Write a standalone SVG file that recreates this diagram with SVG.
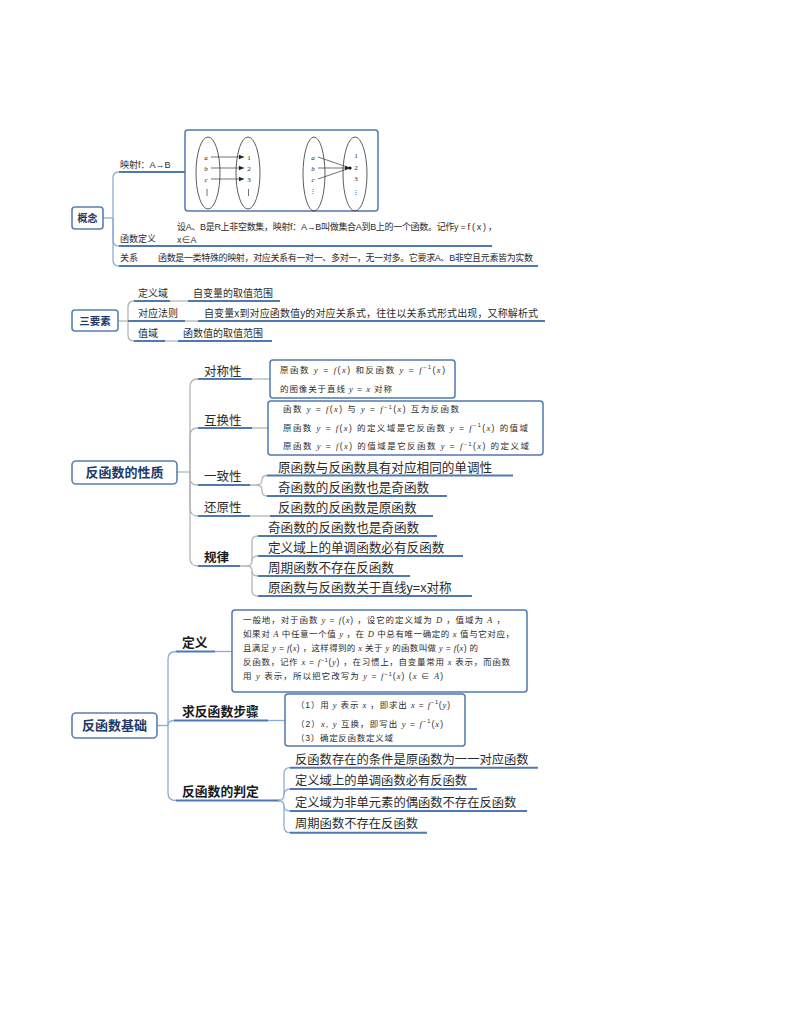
<svg xmlns="http://www.w3.org/2000/svg" width="794" height="1028" viewBox="0 0 794 1028">
<style>
.t{font-family:"Liberation Sans","Noto Sans CJK SC",sans-serif;fill:#2b2b2b}
.r{font-family:"Liberation Sans","Noto Sans CJK SC",sans-serif;fill:#1e3a66;font-weight:bold;text-anchor:middle}
.b{font-weight:bold;fill:#1a1a1a}
.m{font-family:"Liberation Serif","DejaVu Serif",serif;font-style:italic}
.s{font-size:5.5px}
.ul{stroke:#4f79b2;stroke-width:2;fill:none}
.br{stroke:#b5b5b5;stroke-width:1.3;fill:none}
.brb{stroke:#8cadd6;stroke-width:1.3;fill:none}
.box{fill:#fff;stroke:#5078b0;stroke-width:1.5}
.root{fill:#fff;stroke:#5a7fb2;stroke-width:1.6}
.el{fill:none;stroke:#333;stroke-width:0.8}
.ln{stroke:#333;stroke-width:0.7;fill:none}
</style>
<defs>
<marker id="ah" markerWidth="6" markerHeight="6" refX="5" refY="3" orient="auto" markerUnits="userSpaceOnUse">
<path d="M0,0.8 L5,3 L0,5.2 Z" fill="#222"/>
</marker>
</defs>
<rect width="794" height="1028" fill="#fff"/>

<!-- connectors -->
<g id="connectors">
<!-- 概念 -->
<line class="brb" x1="103" y1="218" x2="113" y2="218"/>
<path class="brb" d="M113,218 V178 Q113,172 119,172"/>
<path class="brb" d="M113,218 V240 Q113,246 119,246"/>
<path class="brb" d="M113,218 V260 Q113,266 119,266"/>
<line class="ul" x1="119" y1="172" x2="185" y2="172"/>
<line class="ul" x1="119" y1="246" x2="492" y2="246"/>
<line class="ul" x1="119" y1="266" x2="538" y2="266"/>
<!-- 三要素 -->
<line class="br" x1="118" y1="321" x2="128" y2="321"/>
<path class="br" d="M128,321 V307 Q128,301 134,301"/>
<path class="br" d="M128,321 V335 Q128,341 134,341"/>
<line class="ul" x1="134" y1="301" x2="170" y2="301"/>
<line class="br" x1="170" y1="301" x2="188" y2="301"/>
<line class="ul" x1="188" y1="301" x2="280" y2="301"/>
<line class="ul" x1="128" y1="321" x2="185" y2="321"/>
<line class="br" x1="185" y1="321" x2="198" y2="321"/>
<line class="ul" x1="198" y1="321" x2="545" y2="321"/>
<line class="ul" x1="134" y1="341" x2="165" y2="341"/>
<line class="br" x1="165" y1="341" x2="178" y2="341"/>
<line class="ul" x1="178" y1="341" x2="272" y2="341"/>
<!-- 反函数的性质 -->
<line class="br" x1="177" y1="472" x2="190" y2="472"/>
<path class="br" d="M190,472 V387 Q190,379 198,379"/>
<path class="br" d="M190,472 V436 Q190,428 198,428"/>
<path class="br" d="M190,472 V478 Q190,485 198,485"/>
<path class="br" d="M190,472 V508 Q190,516 198,516"/>
<path class="br" d="M190,472 V558 Q190,566 198,566"/>
<line class="ul" x1="198" y1="379" x2="252" y2="379"/>
<line class="br" x1="252" y1="379" x2="270" y2="379"/>
<line class="ul" x1="198" y1="428" x2="252" y2="428"/>
<line class="br" x1="252" y1="428" x2="268" y2="428"/>
<line class="ul" x1="198" y1="485" x2="250" y2="485"/>
<path class="br" d="M250,485 H256 Q262,485 262,480 Q262,475.5 267,475.5"/>
<path class="br" d="M256,485 Q262,485 262,490 V491 Q262,496 267,496"/>
<line class="ul" x1="267" y1="475.5" x2="513" y2="475.5"/>
<line class="ul" x1="267" y1="496" x2="447" y2="496"/>
<line class="ul" x1="198" y1="516" x2="250" y2="516"/>
<line class="br" x1="250" y1="516" x2="270" y2="516"/>
<line class="ul" x1="270" y1="516" x2="433" y2="516"/>
<line class="ul" x1="198" y1="566" x2="240" y2="566"/>
<path class="br" d="M240,566 H247 Q252,566 252,561 V541 Q252,536 258,536"/>
<path class="br" d="M247,566 Q252,566 252,571 V591 Q252,596 258,596"/>
<path class="br" d="M252,561 Q252,556 258,556"/>
<path class="br" d="M252,571 Q252,576 258,576"/>
<line class="ul" x1="258" y1="536" x2="437" y2="536"/>
<line class="ul" x1="258" y1="556" x2="463" y2="556"/>
<line class="ul" x1="258" y1="576" x2="410" y2="576"/>
<line class="ul" x1="258" y1="596" x2="472" y2="596"/>
<!-- 反函数基础 -->
<line class="brb" x1="157" y1="725.5" x2="168" y2="725.5"/>
<path class="brb" d="M168,725.5 V659 Q168,651.5 176,651.5"/>
<path class="brb" d="M168,725.5 Q168,720.5 174,720.5"/>
<path class="brb" d="M168,725.5 V793 Q168,800.5 176,800.5"/>
<line class="ul" x1="176" y1="651.5" x2="215" y2="651.5"/>
<line class="brb" x1="215" y1="651.5" x2="232" y2="651.5"/>
<line class="ul" x1="174" y1="720.5" x2="268" y2="720.5"/>
<line class="brb" x1="268" y1="720.5" x2="285" y2="720.5"/>
<line class="ul" x1="176" y1="800.5" x2="280" y2="800.5"/>
<path class="brb" d="M278,800.5 Q284,800.5 284,795 V774 Q284,767.7 290,767.7"/>
<path class="brb" d="M284,795 V795 Q284,789 290,789"/>
<path class="brb" d="M278,800.5 Q284,800.5 284,806 Q284,811 290,811"/>
<path class="brb" d="M284,806 V826 Q284,832.7 290,832.7"/>
<line class="ul" x1="290" y1="767.7" x2="538" y2="767.7"/>
<line class="ul" x1="290" y1="789" x2="477" y2="789"/>
<line class="ul" x1="290" y1="811" x2="527" y2="811"/>
<line class="ul" x1="290" y1="832.7" x2="427" y2="832.7"/>
</g>

<!-- 概念 -->
<g id="n-gainian">
<rect class="root" x="72" y="207" width="31" height="22" rx="3"/>
<text class="r" x="87.5" y="221.5" font-size="10">概念</text>
</g>
<g id="n-yingshe">
<text class="t" x="120" y="168" font-size="9">映射f：A→B</text>
</g>
<g id="n-yingshe-img">
<rect class="box" x="185" y="130" width="193" height="81" rx="3"/>
<ellipse class="el" cx="208" cy="173" rx="12" ry="36"/>
<ellipse class="el" cx="248" cy="173" rx="12" ry="36"/>
<g class="m" font-size="7" text-anchor="middle" fill="#222">
<text x="206" y="159.5">a</text><text x="206" y="170.5">b</text><text x="206" y="181.5">c</text>
<text x="249" y="159.5" font-style="normal">1</text><text x="249" y="170.5" font-style="normal">2</text><text x="249" y="181.5" font-style="normal">3</text>
</g>
<line class="ln" x1="207" y1="189" x2="207" y2="196"/>
<line class="ln" x1="248.5" y1="189" x2="248.5" y2="196"/>
<line class="ln" x1="211" y1="157" x2="244" y2="157" marker-end="url(#ah)"/>
<line class="ln" x1="211" y1="168" x2="244" y2="168" marker-end="url(#ah)"/>
<line class="ln" x1="211" y1="179" x2="244" y2="179" marker-end="url(#ah)"/>
<ellipse class="el" cx="314" cy="174" rx="11" ry="37"/>
<ellipse class="el" cx="355" cy="174" rx="12" ry="37"/>
<g class="m" font-size="7" text-anchor="middle" fill="#222">
<text x="313" y="160">a</text><text x="313" y="170.5">b</text><text x="313" y="181.5">c</text>
<text x="356" y="158" font-style="normal">1</text><text x="356" y="169.5" font-style="normal">2</text><text x="356" y="181" font-style="normal">3</text>
<text x="313" y="193" font-style="normal" font-size="6">⋮</text><text x="356" y="194" font-style="normal" font-size="6">⋮</text>
</g>
<line class="ln" x1="318" y1="157" x2="350" y2="168"/>
<line class="ln" x1="318" y1="168" x2="350" y2="168" marker-end="url(#ah)"/>
<line class="ln" x1="318" y1="179" x2="350" y2="168"/>
<circle cx="350" cy="168" r="1.6" fill="#111"/>
</g>
<g id="n-hanshudingyi">
<text class="t" x="120" y="242" font-size="9">函数定义</text>
<text class="t" x="177" y="230" font-size="9" textLength="320" lengthAdjust="spacing">设A、B是R上非空数集，映射f：A→B叫做集合A到B上的一个函数。记作y = f ( x ) ，</text>
<text class="t" x="177" y="243" font-size="9">x∈A</text>
</g>
<g id="n-guanxi">
<text class="t" x="120" y="261" font-size="9">关系</text>
<text class="t" x="158" y="261" font-size="9" textLength="375" lengthAdjust="spacing">函数是一类特殊的映射，对应关系有一对一、多对一，无一对多。它要求A、B非空且元素皆为实数</text>
</g>

<!-- 三要素 -->
<g id="n-sanyaosu">
<rect class="root" x="72" y="310" width="46" height="21" rx="3"/>
<text class="r" x="95" y="324.5" font-size="10.5">三要素</text>
</g>
<g id="n-dingyiyu">
<text class="t" x="138" y="297" font-size="10">定义域</text>
<text class="t" x="193" y="297" font-size="10">自变量的取值范围</text>
</g>
<g id="n-duiyingfaze">
<text class="t" x="138" y="317" font-size="10">对应法则</text>
<text class="t" x="204" y="317" font-size="10" textLength="334" lengthAdjust="spacing">自变量x到对应函数值y的对应关系式，往往以关系式形式出现，又称解析式</text>
</g>
<g id="n-zhiyu">
<text class="t" x="138" y="337" font-size="10">值域</text>
<text class="t" x="183" y="337" font-size="10">函数值的取值范围</text>
</g>

<!-- 反函数的性质 -->
<g id="n-xingzhi">
<rect class="root" x="72" y="461" width="105" height="23" rx="4"/>
<text class="r" x="124.5" y="477" font-size="13">反函数的性质</text>
</g>
<g id="n-duichen">
<text class="t" x="204" y="375.5" font-size="12.5">对称性</text>
<rect class="box" x="270" y="360" width="185" height="38" rx="3"/>
<text class="t" x="280" y="372.5" font-size="8.5" textLength="165" lengthAdjust="spacing">原函数 <tspan class="m">y</tspan> = <tspan class="m">f</tspan>(<tspan class="m">x</tspan>) 和反函数 <tspan class="m">y</tspan> = <tspan class="m">f</tspan><tspan class="s" dy="-3.5">−1</tspan><tspan dy="3.5">(</tspan><tspan class="m">x</tspan>)</text>
<text class="t" x="280" y="392" font-size="8.5" textLength="112" lengthAdjust="spacing">的图像关于直线 <tspan class="m">y</tspan> = <tspan class="m">x</tspan> 对称</text>
</g>
<g id="n-huhuan">
<text class="t" x="204" y="424.5" font-size="12.5">互换性</text>
<rect class="box" x="268" y="401" width="275" height="54" rx="3"/>
<text class="t" x="283" y="412" font-size="8.5" textLength="176" lengthAdjust="spacing">函数 <tspan class="m">y</tspan> = <tspan class="m">f</tspan>(<tspan class="m">x</tspan>) 与 <tspan class="m">y</tspan> = <tspan class="m">f</tspan><tspan class="s" dy="-3.5">−1</tspan><tspan dy="3.5">(</tspan><tspan class="m">x</tspan>) 互为反函数</text>
<text class="t" x="283" y="430.5" font-size="8.5" textLength="245" lengthAdjust="spacing">原函数 <tspan class="m">y</tspan> = <tspan class="m">f</tspan>(<tspan class="m">x</tspan>) 的定义域是它反函数 <tspan class="m">y</tspan> = <tspan class="m">f</tspan><tspan class="s" dy="-3.5">−1</tspan><tspan dy="3.5">(</tspan><tspan class="m">x</tspan>) 的值域</text>
<text class="t" x="283" y="449" font-size="8.5" textLength="246" lengthAdjust="spacing">原函数 <tspan class="m">y</tspan> = <tspan class="m">f</tspan>(<tspan class="m">x</tspan>) 的值域是它反函数 <tspan class="m">y</tspan> = <tspan class="m">f</tspan><tspan class="s" dy="-3.5">−1</tspan><tspan dy="3.5">(</tspan><tspan class="m">x</tspan>) 的定义域</text>
</g>
<g id="n-yizhi">
<text class="t" x="204" y="481" font-size="12.5">一致性</text>
<text class="t" x="278" y="472" font-size="12.6">原函数与反函数具有对应相同的单调性</text>
<text class="t" x="278" y="491.5" font-size="12.6">奇函数的反函数也是奇函数</text>
</g>
<g id="n-huanyuan">
<text class="t" x="204" y="512" font-size="12.5">还原性</text>
<text class="t" x="278" y="512" font-size="12.6">反函数的反函数是原函数</text>
</g>
<g id="n-guilv">
<text class="t b" x="204" y="562" font-size="12.5">规律</text>
<text class="t" x="268" y="532" font-size="12.6">奇函数的反函数也是奇函数</text>
<text class="t" x="268" y="552" font-size="12.6">定义域上的单调函数必有反函数</text>
<text class="t" x="268" y="572" font-size="12.6">周期函数不存在反函数</text>
<text class="t" x="268" y="591.5" font-size="12.6">原函数与反函数关于直线y=x对称</text>
</g>

<!-- 反函数基础 -->
<g id="n-jichu">
<rect class="root" x="72" y="713" width="85" height="25" rx="4"/>
<text class="r" x="114.5" y="730" font-size="13">反函数基础</text>
</g>
<g id="n-dingyi">
<text class="t b" x="182" y="646.5" font-size="12.8">定义</text>
<rect class="box" x="232" y="610" width="295" height="82" rx="3"/>
<text class="t" x="243" y="623" font-size="8.5" textLength="262" lengthAdjust="spacing">一般地，对于函数 <tspan class="m">y</tspan> = <tspan class="m">f</tspan>(<tspan class="m">x</tspan>) ，设它的定义域为 <tspan class="m">D</tspan> ，值域为 <tspan class="m">A</tspan> ，</text>
<text class="t" x="243" y="637" font-size="8.5" textLength="271" lengthAdjust="spacing">如果对 <tspan class="m">A</tspan> 中任意一个值 <tspan class="m">y</tspan> ，在 <tspan class="m">D</tspan> 中总有唯一确定的 <tspan class="m">x</tspan> 值与它对应，</text>
<text class="t" x="243" y="651" font-size="8.5" textLength="235" lengthAdjust="spacing">且满足 <tspan class="m">y</tspan> = <tspan class="m">f</tspan>(<tspan class="m">x</tspan>) ，这样得到的 <tspan class="m">x</tspan> 关于 <tspan class="m">y</tspan> 的函数叫做 <tspan class="m">y</tspan> = <tspan class="m">f</tspan>(<tspan class="m">x</tspan>) 的</text>
<text class="t" x="243" y="665" font-size="8.5" textLength="267" lengthAdjust="spacing">反函数，记作 <tspan class="m">x</tspan> = <tspan class="m">f</tspan><tspan class="s" dy="-3.5">−1</tspan><tspan dy="3.5">(</tspan><tspan class="m">y</tspan>) ，在习惯上，自变量常用 <tspan class="m">x</tspan> 表示，而函数</text>
<text class="t" x="243" y="679" font-size="8.5" textLength="200" lengthAdjust="spacing">用 <tspan class="m">y</tspan> 表示，所以把它改写为 <tspan class="m">y</tspan> = <tspan class="m">f</tspan><tspan class="s" dy="-3.5">−1</tspan><tspan dy="3.5">(</tspan><tspan class="m">x</tspan>) (<tspan class="m">x</tspan> ∈ <tspan class="m">A</tspan>)</text>
</g>
<g id="n-buzhou">
<text class="t b" x="182" y="715.5" font-size="12.8">求反函数步骤</text>
<rect class="box" x="285" y="694" width="180" height="52" rx="3"/>
<text class="t" x="296" y="707.5" font-size="8.5" textLength="154" lengthAdjust="spacing">（1）用 <tspan class="m">y</tspan> 表示 <tspan class="m">x</tspan> ，即求出 <tspan class="m">x</tspan> = <tspan class="m">f</tspan><tspan class="s" dy="-3.5">−1</tspan><tspan dy="3.5">(</tspan><tspan class="m">y</tspan>)</text>
<text class="t" x="296" y="726.5" font-size="8.5" textLength="147" lengthAdjust="spacing">（2）<tspan class="m">x</tspan>, <tspan class="m">y</tspan> 互换，即写出 <tspan class="m">y</tspan> = <tspan class="m">f</tspan><tspan class="s" dy="-3.5">−1</tspan><tspan dy="3.5">(</tspan><tspan class="m">x</tspan>)</text>
<text class="t" x="296" y="741" font-size="8.5" textLength="97" lengthAdjust="spacing">（3）确定反函数定义域</text>
</g>
<g id="n-panding">
<text class="t b" x="182" y="796" font-size="12.8">反函数的判定</text>
<text class="t" x="295" y="763.5" font-size="12.3">反函数存在的条件是原函数为一一对应函数</text>
<text class="t" x="295" y="785" font-size="12.3">定义域上的单调函数必有反函数</text>
<text class="t" x="295" y="806.5" font-size="12.3">定义域为非单元素的偶函数不存在反函数</text>
<text class="t" x="295" y="828" font-size="12.3">周期函数不存在反函数</text>
</g>
</svg>
